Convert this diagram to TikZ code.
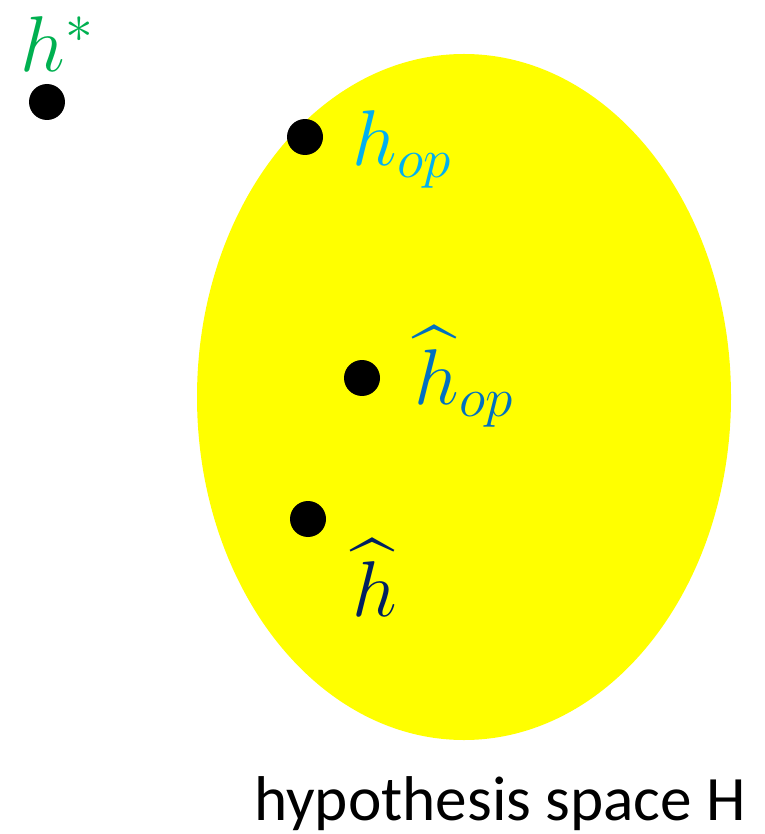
\RequirePackage{fix-cm}
\documentclass[tikz,border=0pt]{standalone}
\usepackage{fontspec}
\setmainfont{Carlito}
\usepackage{amsmath,amssymb}
\usepackage{tikz}
\usetikzlibrary{positioning}
\definecolor{hstar}{HTML}{00B050}
\definecolor{hop}{HTML}{00B0F0}
\definecolor{hhatop}{HTML}{0070C0}
\definecolor{hhat}{HTML}{002060}
\definecolor{hspace}{HTML}{FFFF00}
\tikzset{
  dot/.style={circle, fill=black, inner sep=0pt, minimum size=0.72cm},
  mathlabel/.style={inner sep=0pt, font=\fontsize{45}{52}\selectfont},
}
\begin{document}
\begin{tikzpicture}[x=0.02cm, y=-0.02cm]
            \useasboundingbox (0,0) rectangle (764,834);
            \fill[hspace] (464,397) ellipse [x radius=267, y radius=343]; %仮説空間
            \node[dot] (hstar) at (47,102) {}; %真の仮説
            \node[mathlabel, text=hstar] (hstarlabel) at (57,44) {$h^*$};
            \node[dot] (hop) at (305,137) {};
            \node[mathlabel, text=hop] (hoplabel) at (402,149) {$h_{op}$};
            \node[dot] (hhatop) at (362,378) {};
            \node[mathlabel, text=hhatop] (hhatoplabel) at (464,377) {$\widehat{h}_{op}$};
            \node[dot] (hhat) at (308,519) {};
            \node[mathlabel, text=hhat] (hhatlabel) at (375,578) {$\widehat{h}$};
            \node[inner sep=0pt, font=\fontsize{36}{42}\selectfont] (caption) at (500,804) {hypothesis space H}; %説明
        \end{tikzpicture}
\end{document}
